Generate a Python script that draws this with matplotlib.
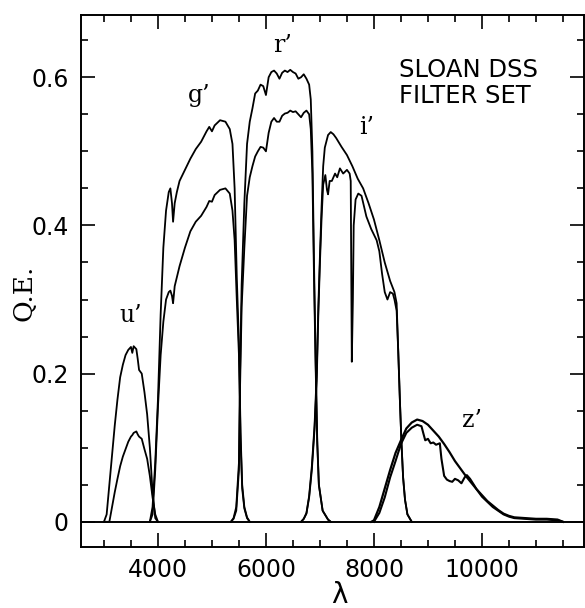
import numpy as np
import matplotlib
matplotlib.use("Agg")
import matplotlib.pyplot as plt
from matplotlib.ticker import MultipleLocator, FuncFormatter

# кривые пропускания фильтров SDSS: без атмосферы (top) и с атмосферой (atm)
u_lam = [3000, 3050, 3100, 3150, 3200, 3250, 3300, 3350, 3400, 3450, 3500, 3525, 3550, 3600,
         3625, 3650, 3700, 3750, 3800, 3850, 3900, 3950, 4000]
u_top = [0.0, 0.01, 0.05, 0.09, 0.13, 0.165, 0.195, 0.212, 0.225, 0.232, 0.236, 0.228, 0.237, 0.233,
         0.22, 0.205, 0.20, 0.175, 0.145, 0.10, 0.04, 0.005, 0.0]
u_atm = [0.0, 0.0, 0.0, 0.02, 0.04, 0.058, 0.075, 0.088, 0.098, 0.108, 0.115, 0.117, 0.12, 0.122,
         0.118, 0.115, 0.112, 0.098, 0.085, 0.062, 0.033, 0.01, 0.0]

g_lam = [3850, 3900, 3950, 4000, 4050, 4100, 4150, 4200, 4230, 4260, 4280, 4310, 4350, 4400, 4500,
         4600, 4700, 4800, 4900, 4950, 5000, 5050, 5150, 5250, 5330, 5380, 5420, 5460, 5500, 5530,
         5560, 5600, 5650, 5700]
g_top = [0.0, 0.02, 0.08, 0.165, 0.28, 0.37, 0.42, 0.445, 0.45, 0.43, 0.405, 0.43, 0.445, 0.46, 0.475,
         0.49, 0.503, 0.513, 0.527, 0.533, 0.527, 0.535, 0.542, 0.54, 0.53, 0.51, 0.45, 0.33, 0.24, 0.12,
         0.05, 0.02, 0.006, 0.0]
g_atm = [0.0, 0.01, 0.07, 0.155, 0.225, 0.27, 0.30, 0.31, 0.312, 0.305, 0.295, 0.318, 0.33, 0.345, 0.37,
         0.392, 0.405, 0.413, 0.425, 0.433, 0.432, 0.441, 0.448, 0.45, 0.443, 0.42, 0.38, 0.30, 0.225, 0.11,
         0.045, 0.018, 0.005, 0.0]

r_lam = [5350, 5400, 5450, 5500, 5520, 5550, 5600, 5650, 5700, 5750, 5800, 5850, 5900, 5950, 6000,
         6050, 6100, 6150, 6200, 6250, 6300, 6350, 6400, 6450, 6500, 6550, 6600, 6650, 6700, 6750,
         6800, 6830, 6860, 6890, 6920, 6950, 6980, 7050, 7150, 7200]
r_top = [0.0, 0.005, 0.02, 0.08, 0.2, 0.32, 0.43, 0.51, 0.54, 0.558, 0.578, 0.582, 0.59, 0.588, 0.576,
         0.60, 0.607, 0.609, 0.605, 0.598, 0.606, 0.609, 0.607, 0.61, 0.607, 0.605, 0.598, 0.60, 0.604, 0.598,
         0.59, 0.57, 0.50, 0.35, 0.22, 0.11, 0.05, 0.015, 0.003, 0.0]
r_atm = [0.0, 0.004, 0.015, 0.07, 0.18, 0.29, 0.37, 0.44, 0.465, 0.48, 0.493, 0.50, 0.506, 0.505, 0.50,
         0.525, 0.54, 0.545, 0.54, 0.54, 0.548, 0.551, 0.552, 0.555, 0.553, 0.554, 0.55, 0.546, 0.552, 0.555,
         0.55, 0.53, 0.47, 0.33, 0.21, 0.105, 0.05, 0.015, 0.003, 0.0]

i_lam = [6650, 6700, 6750, 6800, 6850, 6900, 6940, 6970, 7000, 7030, 7060, 7090, 7150, 7200, 7250,
         7300, 7400, 7500, 7600, 7700, 7800, 7900, 8000, 8100, 8200, 8300, 8380, 8420, 8450, 8480,
         8510, 8540, 8575, 8620, 8700]
i_top = [0.0, 0.004, 0.012, 0.035, 0.075, 0.13, 0.2, 0.29, 0.36, 0.425, 0.48, 0.505, 0.522, 0.526, 0.523,
         0.518, 0.506, 0.495, 0.48, 0.463, 0.45, 0.43, 0.408, 0.38, 0.35, 0.325, 0.31, 0.295, 0.23, 0.165,
         0.106, 0.06, 0.03, 0.01, 0.0]
i_lam_atm = [6650, 6700, 6750, 6800, 6850, 6900, 6940, 6970, 7000, 7030, 7060, 7100, 7130, 7150, 7180,
             7220, 7280, 7320, 7370, 7430, 7500, 7550, 7570, 7590, 7610, 7625, 7660, 7710, 7770, 7860,
             7950, 8050, 8100, 8150, 8200, 8250, 8300, 8350, 8380, 8420, 8450, 8480, 8510, 8540, 8575,
             8620, 8700]
i_atm = [0.0, 0.004, 0.011, 0.033, 0.07, 0.125, 0.19, 0.28, 0.35, 0.41, 0.455, 0.468, 0.448, 0.442, 0.46,
         0.46, 0.47, 0.465, 0.477, 0.47, 0.475, 0.47, 0.46, 0.216, 0.30, 0.40, 0.435, 0.443, 0.44, 0.412,
         0.395, 0.38, 0.365, 0.335, 0.31, 0.30, 0.31, 0.308, 0.30, 0.285, 0.23, 0.165, 0.106, 0.06, 0.03,
         0.01, 0.0]

z_lam = [7950, 8000, 8100, 8200, 8300, 8400, 8500, 8600, 8700, 8800, 8900, 9000, 9100, 9200, 9300,
         9400, 9500, 9600, 9700, 9800, 9900, 10000, 10100, 10200, 10300, 10400, 10500, 10600, 10800,
         11000, 11200, 11400, 11500]
z_top = [0.0, 0.002, 0.02, 0.045, 0.07, 0.093, 0.11, 0.126, 0.134, 0.138, 0.136, 0.131, 0.123, 0.115, 0.105,
         0.094, 0.082, 0.072, 0.062, 0.053, 0.044, 0.036, 0.028, 0.022, 0.016, 0.011, 0.008, 0.006, 0.005,
         0.004, 0.004, 0.003, 0.0]
z_lam_atm = [8000, 8100, 8200, 8300, 8400, 8500, 8600, 8700, 8800, 8880, 8920, 8950, 9000, 9050, 9100,
             9150, 9220, 9250, 9300, 9350, 9400, 9450, 9500, 9560, 9620, 9680, 9720, 9780, 9850, 9900,
             10000, 10100, 10200, 10300, 10400, 10500, 10600, 10800, 11000, 11200, 11400, 11500]
z_atm = [0.0, 0.012, 0.033, 0.06, 0.082, 0.105, 0.12, 0.127, 0.131, 0.129, 0.118, 0.11, 0.112, 0.106, 0.107,
         0.104, 0.106, 0.085, 0.062, 0.057, 0.055, 0.054, 0.058, 0.056, 0.052, 0.06, 0.063, 0.058, 0.05, 0.044,
         0.034, 0.027, 0.02, 0.015, 0.01, 0.007, 0.005, 0.004, 0.003, 0.003, 0.002, 0.0]

filter_names = ["u’", "g’", "r’", "i’", "z’"]
label_x = [3500, 4760, 6315, 7870, 9815]
label_y = [0.27, 0.566, 0.634, 0.524, 0.128]

fig = plt.figure(figsize=(5.85, 6.08), dpi=100)
ax = fig.add_axes([81 / 585, 1 - 547 / 608, 503 / 585, 532 / 608])

curves = [(u_lam, u_top), (u_lam, u_atm), (g_lam, g_top), (g_lam, g_atm),
          (r_lam, r_top), (r_lam, r_atm), (i_lam, i_top), (i_lam_atm, i_atm)]
for lam, qe in curves:
    ax.plot(lam, qe, color="black", lw=1.3)
# z' в оригинале нарисован чуть толще
ax.plot(z_lam, z_top, color="black", lw=1.6)
ax.plot(z_lam_atm, z_atm, color="black", lw=1.5)

ax.axhline(0, color="black", lw=1.4)

for name, x, y in zip(filter_names, label_x, label_y):
    ax.text(x, y, name, ha="center", va="baseline", family="DejaVu Serif", fontsize=17)

ax.set_xlim(2575, 11890)
ax.set_ylim(-0.034, 0.684)
ax.set_xticks([4000, 6000, 8000, 10000])
ax.xaxis.set_minor_locator(MultipleLocator(500))
ax.yaxis.set_major_locator(MultipleLocator(0.2))
ax.yaxis.set_minor_locator(MultipleLocator(0.05))
ax.yaxis.set_major_formatter(FuncFormatter(lambda v, _: "0" if abs(v) < 1e-9 else f"{v:.1f}"))

ax.tick_params(which="both", direction="in", top=True, right=True, width=1.2, labelsize=17)
ax.tick_params(which="major", length=10)
ax.tick_params(which="minor", length=5)
ax.tick_params(axis="x", pad=8)
ax.tick_params(axis="y", pad=9)
for s in ax.spines.values():
    s.set_linewidth(1.4)

fig.text(399 / 585, 1 - 58 / 608, "SLOAN DSS\nFILTER SET", ha="left", va="top",
         fontsize=17.5, linespacing=1.1)
fig.text(24 / 585, 0.518, "Q.E.", rotation=90, ha="center", va="center",
         family="DejaVu Serif", fontsize=19)
fig.text(339 / 585, 1 - 581 / 608, "λ", ha="center", va="top", fontsize=20)

fig.savefig("out.png", dpi=100)
